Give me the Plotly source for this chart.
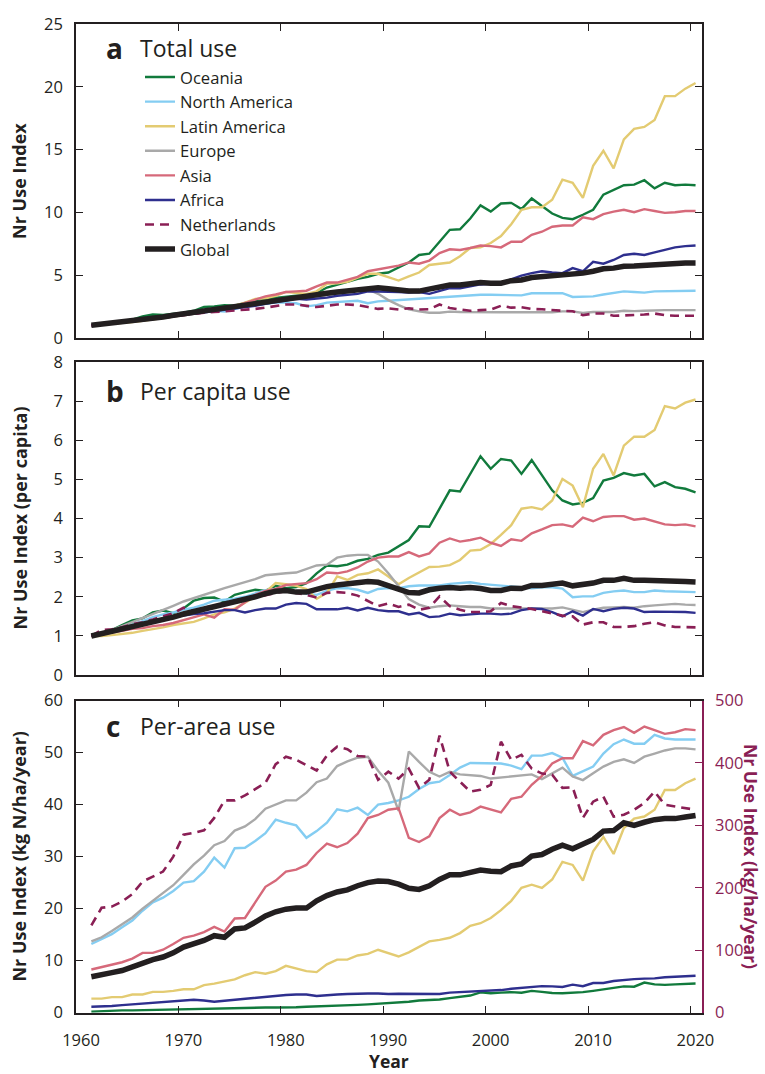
import plotly.graph_objects as go

YEARS = list(range(1961, 2021))

SERIES = ["Oceania", "North America", "Latin America", "Europe", "Asia", "Africa", "Netherlands", "Global"]

# ---- Panel a: total use index ----
oce_a = [1.0, 1.1, 1.2, 1.35, 1.45, 1.7, 1.85, 1.82, 1.9, 2.0,
         2.15, 2.45, 2.5, 2.6, 2.55, 2.75, 3.0, 3.1, 3.2, 3.3,
         3.35, 3.4, 3.55, 4.0, 4.2, 4.45, 4.7, 4.85, 5.1, 5.2,
         5.6, 6.0, 6.6, 6.7, 7.65, 8.6, 8.65, 9.5, 10.55, 10.05,
         10.7, 10.75, 10.25, 11.1, 10.5, 9.9, 9.55, 9.45, 9.8, 10.2,
         11.4, 11.8, 12.15, 12.2, 12.55, 11.9, 12.35, 12.15, 12.2, 12.15]
nam_a = [1.0, 1.08, 1.15, 1.25, 1.35, 1.45, 1.55, 1.65, 1.75, 1.85,
         1.95, 2.05, 2.15, 2.1, 2.3, 2.5, 2.6, 2.7, 2.8, 2.8,
         2.75, 2.5, 2.6, 2.8, 2.85, 2.9, 2.95, 2.75, 2.9, 2.95,
         3.0, 3.05, 3.15, 3.2, 3.25, 3.3, 3.35, 3.4, 3.43, 3.43,
         3.43, 3.43, 3.38, 3.55, 3.55, 3.55, 3.55, 3.25, 3.3, 3.3,
         3.45, 3.55, 3.7, 3.65, 3.6, 3.7, 3.7, 3.7, 3.75, 3.75]
lat_a = [1.0, 1.05, 1.1, 1.18, 1.25, 1.35, 1.45, 1.55, 1.65, 1.8,
         1.9, 2.05, 2.2, 2.35, 2.55, 2.8, 3.1, 3.15, 3.35, 3.65,
         3.55, 3.5, 3.7, 4.3, 4.35, 4.45, 4.8, 5.1, 5.1, 4.85,
         4.56, 4.9, 5.2, 5.8, 5.9, 6.0, 6.5, 7.15, 7.2, 7.55,
         8.1, 9.05, 10.2, 10.4, 10.4, 11.0, 12.6, 12.35, 11.15, 13.7,
         14.9, 13.5, 15.8, 16.65, 16.8, 17.35, 19.25, 19.25, 19.85, 20.3]
eur_a = [1.0, 1.08, 1.15, 1.25, 1.35, 1.45, 1.55, 1.65, 1.75, 1.85,
         1.95, 2.05, 2.15, 2.25, 2.35, 2.5, 2.65, 2.8, 2.9, 3.0,
         3.1, 3.15, 3.3, 3.4, 3.55, 3.65, 3.75, 3.85, 3.5, 3.0,
         2.6, 2.27, 2.1, 2.0, 2.0, 2.08, 2.05, 2.03, 2.03, 2.03,
         2.03, 2.03, 2.03, 2.03, 2.03, 2.03, 2.1, 2.1, 1.98, 2.05,
         2.05, 2.05, 2.15, 2.12, 2.15, 2.2, 2.2, 2.2, 2.2, 2.2]
asia_a = [1.0, 1.08, 1.15, 1.25, 1.35, 1.45, 1.55, 1.65, 1.75, 1.9,
          2.0, 2.1, 2.2, 2.3, 2.5, 2.75, 3.05, 3.3, 3.45, 3.65,
          3.7, 3.75, 4.1, 4.4, 4.4, 4.6, 4.85, 5.3, 5.45, 5.65,
          5.75, 6.0, 5.9, 6.15, 6.75, 7.05, 7.0, 7.15, 7.35, 7.3,
          7.2, 7.65, 7.65, 8.2, 8.45, 8.85, 8.95, 8.95, 9.6, 9.45,
          9.85, 10.05, 10.2, 10.0, 10.25, 10.1, 9.95, 10.0, 10.1, 10.1]
afr_a = [1.0, 1.07, 1.14, 1.22, 1.3, 1.4, 1.5, 1.6, 1.7, 1.8,
         1.9, 2.0, 2.1, 2.2, 2.3, 2.4, 2.55, 2.7, 2.85, 3.0,
         3.1, 3.05, 3.1, 3.2, 3.35, 3.45, 3.5, 3.7, 3.7, 3.7,
         3.65, 3.6, 3.65, 3.5, 3.7, 3.95, 3.95, 4.1, 4.25, 4.3,
         4.4, 4.65, 4.95, 5.15, 5.3, 5.2, 5.15, 5.55, 5.3, 6.05,
         5.9, 6.2, 6.6, 6.7, 6.6, 6.8, 7.0, 7.2, 7.3, 7.35]
ned_a = [1.0, 1.08, 1.15, 1.25, 1.35, 1.42, 1.5, 1.6, 1.7, 1.82,
         1.9, 2.0, 2.05, 2.1, 2.2, 2.25, 2.3, 2.4, 2.55, 2.65,
         2.65, 2.55, 2.45, 2.55, 2.65, 2.65, 2.6, 2.45, 2.3, 2.35,
         2.25, 2.35, 2.25, 2.27, 2.65, 2.37, 2.27, 2.15, 2.2, 2.25,
         2.55, 2.4, 2.43, 2.3, 2.27, 2.2, 2.15, 2.12, 1.8, 1.93,
         1.93, 1.75, 1.77, 1.8, 1.85, 1.93, 1.8, 1.75, 1.75, 1.75]
glb_a = [1.0, 1.08, 1.15, 1.25, 1.35, 1.45, 1.55, 1.65, 1.8, 1.9,
         2.0, 2.1, 2.2, 2.3, 2.45, 2.6, 2.72, 2.85, 3.0, 3.12,
         3.2, 3.3, 3.42, 3.55, 3.65, 3.75, 3.88, 3.98, 3.98, 3.9,
         3.8, 3.72, 3.72, 3.85, 4.05, 4.2, 4.2, 4.3, 4.4, 4.35,
         4.35, 4.55, 4.6, 4.8, 4.85, 5.0, 5.05, 5.05, 5.15, 5.3,
         5.5, 5.55, 5.7, 5.72, 5.78, 5.83, 5.88, 5.9, 5.95, 5.95]

# ---- Panel b: per capita use index ----
oce_b = [1.0, 1.08, 1.15, 1.28, 1.4, 1.45, 1.6, 1.65, 1.58, 1.7,
         1.9, 1.97, 1.98, 1.88, 2.05, 2.12, 2.18, 2.15, 2.28, 2.22,
         2.25, 2.35, 2.6, 2.8, 2.78, 2.82, 2.92, 2.97, 3.07, 3.13,
         3.28, 3.45, 3.8, 3.79, 4.25, 4.72, 4.69, 5.14, 5.59, 5.27,
         5.52, 5.48, 5.14, 5.49, 5.1, 4.72, 4.46, 4.36, 4.4, 4.52,
         4.97, 5.04, 5.16, 5.1, 5.14, 4.82, 4.93, 4.8, 4.76, 4.67]
nam_b = [1.0, 1.08, 1.15, 1.22, 1.3, 1.38, 1.48, 1.55, 1.6, 1.67,
         1.72, 1.8, 1.9, 1.93, 1.95, 2.0, 2.08, 2.17, 2.2, 2.18,
         2.12, 2.08, 2.05, 2.15, 2.22, 2.22, 2.18, 2.1, 2.2, 2.22,
         2.22, 2.27, 2.29, 2.29, 2.29, 2.33, 2.35, 2.37, 2.33, 2.31,
         2.28, 2.27, 2.24, 2.22, 2.24, 2.24, 2.21, 1.99, 2.01, 2.01,
         2.1, 2.14, 2.16, 2.12, 2.12, 2.16, 2.14, 2.13, 2.12, 2.12]
lat_b = [1.0, 1.0, 1.02, 1.05, 1.08, 1.13, 1.17, 1.22, 1.28, 1.32,
         1.36, 1.45, 1.55, 1.6, 1.7, 1.85, 2.0, 2.12, 2.35, 2.32,
         2.28, 2.2, 1.95, 2.1, 2.52, 2.43, 2.56, 2.6, 2.7, 2.52,
         2.32, 2.48, 2.62, 2.76, 2.77, 2.81, 2.94, 3.18, 3.2, 3.35,
         3.58, 3.83, 4.25, 4.29, 4.23, 4.46, 5.01, 4.84, 4.29, 5.27,
         5.65, 5.1, 5.86, 6.09, 6.09, 6.26, 6.87, 6.81, 6.96, 7.04]
eur_b = [1.0, 1.07, 1.15, 1.25, 1.35, 1.45, 1.55, 1.65, 1.77, 1.88,
         1.97, 2.04, 2.15, 2.22, 2.3, 2.37, 2.45, 2.55, 2.58, 2.6,
         2.62, 2.7, 2.8, 2.82, 3.0, 3.05, 3.07, 3.07, 2.9, 2.6,
         2.27, 1.94, 1.8, 1.72, 1.76, 1.78, 1.76, 1.74, 1.74, 1.7,
         1.7, 1.7, 1.7, 1.7, 1.7, 1.7, 1.73, 1.67, 1.61, 1.67,
         1.72, 1.73, 1.74, 1.72, 1.76, 1.78, 1.8, 1.82, 1.8, 1.79]
asia_b = [1.0, 1.04, 1.08, 1.13, 1.18, 1.2, 1.25, 1.28, 1.33, 1.4,
          1.48, 1.55, 1.47, 1.68, 1.67, 1.85, 2.05, 2.15, 2.2, 2.3,
          2.32, 2.35, 2.45, 2.62, 2.6, 2.65, 2.75, 2.9, 3.0, 3.03,
          3.03, 3.14, 3.03, 3.11, 3.38, 3.49, 3.41, 3.45, 3.51, 3.38,
          3.3, 3.47, 3.43, 3.62, 3.72, 3.83, 3.85, 3.79, 4.02, 3.93,
          4.04, 4.06, 4.06, 3.97, 4.0, 3.93, 3.85, 3.83, 3.85, 3.8]
afr_b = [1.0, 1.06, 1.12, 1.18, 1.25, 1.32, 1.38, 1.43, 1.48, 1.52,
         1.56, 1.58, 1.62, 1.66, 1.66, 1.6, 1.66, 1.7, 1.7, 1.8,
         1.84, 1.82, 1.68, 1.68, 1.68, 1.72, 1.65, 1.72, 1.66, 1.63,
         1.63, 1.55, 1.59, 1.48, 1.5, 1.57, 1.53, 1.55, 1.57, 1.57,
         1.55, 1.57, 1.66, 1.7, 1.69, 1.61, 1.5, 1.63, 1.52, 1.69,
         1.63, 1.69, 1.72, 1.7, 1.61, 1.62, 1.62, 1.62, 1.61, 1.59]
ned_b = [1.0, 1.15, 1.17, 1.22, 1.3, 1.35, 1.42, 1.5, 1.58, 1.72,
         1.62, 1.72, 1.76, 1.8, 1.85, 1.92, 1.98, 2.03, 2.1, 2.14,
         2.1, 2.05, 1.98, 2.1, 2.12, 2.1, 2.03, 1.9, 1.76, 1.83,
         1.74, 1.8, 1.67, 1.72, 2.01, 1.76, 1.67, 1.61, 1.61, 1.63,
         1.84, 1.76, 1.72, 1.69, 1.63, 1.57, 1.52, 1.5, 1.29, 1.35,
         1.35, 1.23, 1.23, 1.25, 1.31, 1.35, 1.27, 1.23, 1.23, 1.22]
glb_b = [1.0, 1.06, 1.12, 1.18, 1.24, 1.3, 1.35, 1.4, 1.48, 1.56,
         1.62, 1.68, 1.73, 1.8, 1.85, 1.92, 2.0, 2.08, 2.14, 2.16,
         2.12, 2.12, 2.2, 2.26, 2.3, 2.32, 2.36, 2.39, 2.37, 2.28,
         2.18, 2.11, 2.1, 2.18, 2.22, 2.24, 2.22, 2.24, 2.21, 2.16,
         2.16, 2.22, 2.21, 2.29, 2.29, 2.33, 2.35, 2.28, 2.31, 2.35,
         2.42, 2.42, 2.47, 2.42, 2.42, 2.42, 2.41, 2.4, 2.39, 2.38]

# ---- Panel c: per-area use (kg N/ha/year); Netherlands on right axis ----
oce_c = [0.2, 0.3, 0.4, 0.45, 0.45, 0.5, 0.55, 0.6, 0.65, 0.7,
         0.75, 0.8, 0.85, 0.9, 0.95, 0.95, 1.0, 1.0, 1.0, 1.0,
         1.05, 1.15, 1.2, 1.25, 1.35, 1.4, 1.5, 1.6, 1.7, 1.8,
         1.9, 2.1, 2.35, 2.45, 2.55, 2.8, 3.0, 3.3, 3.9, 3.75,
         3.85, 3.95, 3.85, 4.2, 4.0, 3.8, 3.75, 3.8, 3.95, 4.2,
         4.45, 4.75, 5.05, 5.0, 5.8, 5.45, 5.35, 5.45, 5.55, 5.6]
nam_c = [13.2, 14.2, 15.1, 16.4, 17.7, 19.6, 21.2, 22.1, 23.4, 25.0,
         25.3, 27.1, 29.8, 27.9, 31.6, 31.7, 33.0, 34.5, 37.1, 36.5,
         36.0, 33.6, 34.9, 36.5, 39.1, 38.7, 39.4, 38.0, 40.0, 40.3,
         40.8, 41.5, 43.0, 44.1, 44.4, 45.7, 47.1, 48.0, 48.0, 48.0,
         47.9, 47.5, 46.8, 49.4, 49.4, 49.9, 49.0, 45.5, 46.4, 47.3,
         49.8, 51.6, 52.5, 51.7, 51.7, 53.4, 52.7, 52.5, 52.5, 52.5]
lat_c = [2.7, 2.7, 3.0, 3.0, 3.5, 3.5, 4.0, 4.0, 4.2, 4.5,
         4.5, 5.3, 5.6, 6.0, 6.4, 7.2, 7.8, 7.5, 8.0, 9.0,
         8.5, 8.0, 7.8, 9.3, 10.2, 10.2, 11.0, 11.3, 12.1, 11.5,
         10.8, 11.6, 12.6, 13.7, 14.0, 14.4, 15.3, 16.7, 17.2, 18.2,
         19.7, 21.5, 24.0, 24.6, 24.0, 25.6, 29.0, 28.4, 25.4, 31.0,
         33.8, 30.5, 35.5, 37.3, 37.7, 39.0, 42.8, 42.8, 44.1, 45.0]
eur_c = [13.7, 14.5, 15.7, 17.0, 18.3, 20.0, 21.5, 23.0, 24.5, 26.5,
         28.5, 30.2, 32.2, 33.0, 35.0, 35.8, 37.2, 39.2, 40.0, 40.8,
         40.8, 42.3, 44.3, 45.0, 47.4, 48.3, 49.0, 49.2, 46.5, 44.2,
         38.8, 50.2, 48.2, 46.3, 45.4, 46.3, 45.8, 45.7, 45.5, 45.0,
         45.2, 45.4, 45.5, 45.8, 44.9, 46.0, 47.1, 45.4, 44.7, 46.0,
         47.3, 48.2, 48.7, 48.0, 49.2, 49.8, 50.4, 50.8, 50.8, 50.6]
asia_c = [8.3, 8.8, 9.3, 9.7, 10.4, 11.5, 11.5, 12.1, 13.2, 14.4,
          14.8, 15.5, 16.5, 15.6, 18.1, 18.2, 21.2, 24.2, 25.4, 27.1,
          27.5, 28.4, 30.7, 32.5, 31.8, 32.6, 34.4, 37.4, 38.0, 39.0,
          39.3, 33.6, 32.8, 33.9, 37.4, 39.0, 38.0, 38.5, 39.6, 39.1,
          38.5, 41.1, 41.5, 43.8, 45.5, 47.9, 48.9, 48.9, 52.2, 51.4,
          53.4, 54.3, 54.9, 53.8, 55.0, 54.3, 53.6, 53.9, 54.5, 54.3]
afr_c = [1.15, 1.2, 1.28, 1.45, 1.6, 1.75, 1.9, 2.0, 2.1, 2.3,
         2.5, 2.35, 2.1, 2.3, 2.5, 2.7, 2.85, 3.1, 3.25, 3.4,
         3.5, 3.5, 3.2, 3.4, 3.5, 3.6, 3.7, 3.7, 3.7, 3.6,
         3.65, 3.65, 3.7, 3.6, 3.6, 3.85, 3.95, 4.05, 4.2, 4.3,
         4.35, 4.6, 4.8, 4.95, 5.1, 5.05, 4.95, 5.4, 5.1, 5.7,
         5.7, 6.1, 6.3, 6.45, 6.55, 6.6, 6.8, 6.9, 7.0, 7.1]
ned_c = [140, 168, 170, 178, 190, 210, 218, 226, 250, 285,
         288, 292, 312, 340, 340, 348, 358, 368, 398, 410,
         405, 397, 388, 412, 426, 422, 411, 410, 373, 386,
         375, 391, 360, 373, 444, 386, 370, 354, 357, 365,
         434, 405, 413, 391, 383, 381, 360, 361, 312, 338,
         346, 314, 317, 325, 336, 354, 333, 330, 328, 325]
glb_c = [6.9, 7.4, 7.7, 8.1, 8.8, 9.7, 10.2, 10.7, 11.5, 12.6,
         13.2, 13.9, 14.8, 14.5, 16.1, 16.3, 17.4, 18.6, 19.4, 19.9,
         20.1, 20.1, 21.5, 22.5, 23.2, 23.6, 24.4, 25.0, 25.3, 25.2,
         24.7, 23.9, 23.7, 24.4, 25.6, 26.5, 26.5, 27.0, 27.4, 27.2,
         27.1, 28.2, 28.6, 30.1, 30.4, 31.4, 32.2, 31.5, 32.4, 33.3,
         34.9, 35.0, 36.5, 36.0, 36.6, 37.1, 37.3, 37.3, 37.6, 37.9]

PANEL_A = [oce_a, nam_a, lat_a, eur_a, asia_a, afr_a, ned_a, glb_a]
PANEL_B = [oce_b, nam_b, lat_b, eur_b, asia_b, afr_b, ned_b, glb_b]
PANEL_C = [oce_c, nam_c, lat_c, eur_c, asia_c, afr_c, ned_c, glb_c]

COLORS = ["#117a3c", "#84cdf2", "#e3cb72", "#a9a9a9", "#d6697a", "#2e2f8e", "#8a1f55", "#231f20"]
WIDTHS = [2.4, 2.4, 2.4, 2.4, 2.4, 2.4, 2.6, 5.5]
DASHES = ["solid"] * 6 + ["9px,6px", "solid"]

MAROON = "#8a1f55"
INK = "#231f20"
FONT = "Open Sans"

# annual values plotted at mid-year
xs = [y + 0.5 for y in YEARS]

fig = go.Figure()
panels = [(PANEL_A, "x", "y"), (PANEL_B, "x2", "y2"), (PANEL_C, "x3", "y3")]
for p, (data, xa, ya) in enumerate(panels):
    for i, name in enumerate(SERIES):
        yaxis = ya
        if p == 2 and name == "Netherlands":
            yaxis = "y4"
        fig.add_trace(go.Scatter(
            x=xs, y=data[i], mode="lines", name=name,
            xaxis=xa, yaxis=yaxis,
            line=dict(color=COLORS[i], width=WIDTHS[i], dash=DASHES[i]),
            showlegend=(p == 0), legendgroup=name, hoverinfo="skip"))

W, H = 765, 1074
L, R, T, B = 76, 63, 17, 61
PW, PH = W - L - R, H - T - B


def px(x):
    return (x - L) / PW


def py(y):
    return (H - B - y) / PH


common_x = dict(range=[1960, 2021.13], tick0=1960, dtick=10, ticks="inside", ticklen=7,
                tickwidth=1.3, tickcolor=INK, showline=True, linecolor=INK, linewidth=1.5,
                mirror="ticks", showgrid=False, zeroline=False,
                tickfont=dict(family=FONT, size=16.5, color=INK))
common_y = dict(ticks="inside", ticklen=7, tickwidth=1.3, tickcolor=INK, showline=True,
                linecolor=INK, linewidth=1.5, showgrid=False, zeroline=False,
                tickfont=dict(family=FONT, size=16.5, color=INK), ticklabelstandoff=8)

dom_a = [py(333), py(17)]
dom_b = [py(672.7), py(357.3)]
dom_c = [py(1012.7), py(698.3)]

fig.update_layout(
    width=W, height=H, margin=dict(l=L, r=R, t=T, b=B),
    paper_bgcolor="white", plot_bgcolor="white",
    font=dict(family=FONT, color=INK),
    xaxis=dict(common_x, domain=[0, 1], anchor="y", showticklabels=False),
    xaxis2=dict(common_x, domain=[0, 1], anchor="y2", showticklabels=False),
    xaxis3=dict(common_x, domain=[0, 1], anchor="y3", showticklabels=True,
                ticklabelshift=5, ticklabelstandoff=12),
    yaxis=dict(common_y, domain=dom_a, anchor="x", range=[0, 25], dtick=5, mirror="ticks"),
    yaxis2=dict(common_y, domain=dom_b, anchor="x2", range=[0, 8], dtick=1, mirror="ticks"),
    yaxis3=dict(common_y, domain=dom_c, anchor="x3", range=[0, 60], dtick=10, mirror=False),
    yaxis4=dict(range=[0, 500], dtick=100, overlaying="y3", side="right", anchor="x3",
                ticks="inside", ticklen=7, tickwidth=1.3, tickcolor=MAROON,
                showline=True, linecolor=MAROON, linewidth=1.5, showgrid=False,
                zeroline=False, ticklabelstandoff=8,
                tickfont=dict(family=FONT, size=16.5, color=MAROON)),
    legend=dict(x=px(140), y=py(53), xanchor="left", yanchor="top",
                bgcolor="rgba(0,0,0,0)", font=dict(family=FONT, size=16.6, color=INK),
                tracegroupgap=0, itemwidth=30),
    showlegend=True,
)

ann = []
# panel letters and titles
for letter, title, yc in [("a", "Total use", 41), ("b", "Per capita use", 386.5), ("c", "Per-area use", 724)]:
    ann.append(dict(text="<b>%s</b>" % letter, x=px(104), y=py(yc), xref="paper", yref="paper",
                    xanchor="left", yanchor="middle", showarrow=False,
                    font=dict(family=FONT, size=28, color=INK)))
    ann.append(dict(text=title, x=px(138), y=py(yc), xref="paper", yref="paper",
                    xanchor="left", yanchor="middle", showarrow=False,
                    font=dict(family=FONT, size=23, color=INK)))
# axis titles
for t, yc in [("Nr Use Index", 175), ("Nr Use Index (per capita)", 515), ("Nr Use Index (kg N/ha/year)", 855.5)]:
    ann.append(dict(text="<b>%s</b>" % t, x=px(19), y=py(yc), xref="paper", yref="paper",
                    xanchor="center", yanchor="middle", textangle=-90, showarrow=False,
                    font=dict(family=FONT, size=18, color=INK)))
ann.append(dict(text="<b>Nr Use Index (kg/ha/year)</b>", x=px(751), y=py(855), xref="paper", yref="paper",
                xanchor="center", yanchor="middle", textangle=90, showarrow=False,
                font=dict(family=FONT, size=17.5, color=MAROON)))
ann.append(dict(text="<b>Year</b>", x=px(389), y=py(1061), xref="paper", yref="paper",
                xanchor="center", yanchor="middle", showarrow=False,
                font=dict(family=FONT, size=17.5, color=INK)))
fig.update_layout(annotations=ann)

# remove the browser's default page margin so the figure sits at the window origin
fig.write_html("out.html", config={"displayModeBar": False},
               post_script="document.body.style.margin='0';document.body.style.overflow='hidden';")
